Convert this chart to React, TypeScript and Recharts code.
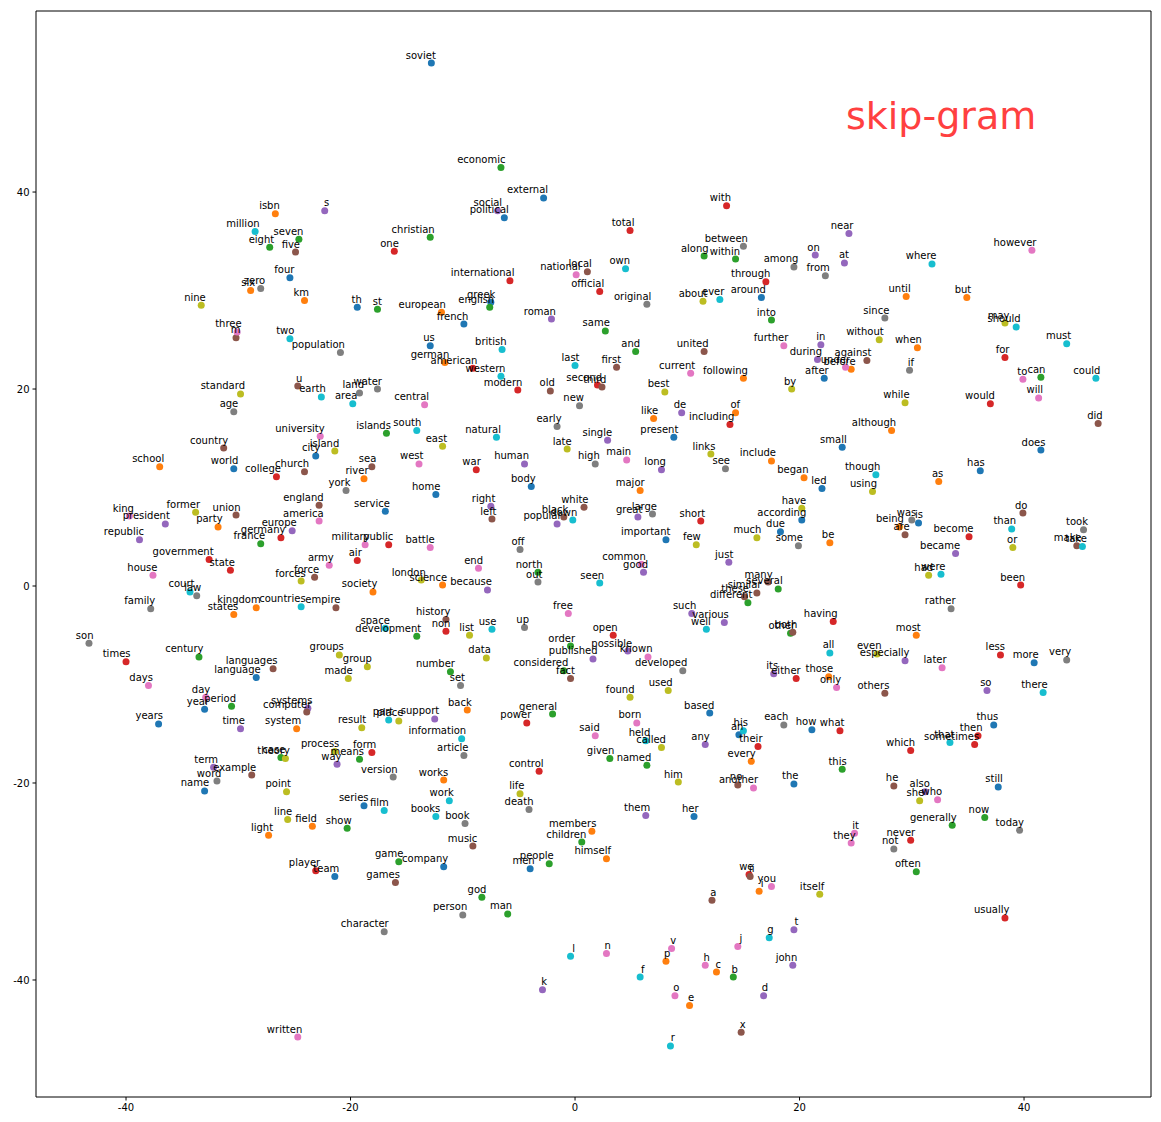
import { ScatterChart, Scatter, XAxis, YAxis, ReferenceArea } from "recharts";

// [word, x, y], grouped by marker colour
type Word = [string, number, number];

const blueWords: Word[] = [
  ["four", -25.4, 31.3], ["soviet", -12.8, 53.1], ["external", -2.8, 39.4], ["political", -6.3, 37.4],
  ["th", -19.4, 28.3], ["greek", -7.5, 28.8], ["french", -9.9, 26.6], ["us", -12.9, 24.4],
  ["around", 16.6, 29.3], ["after", 22.2, 21.1], ["does", 41.5, 13.8], ["has", 36.1, 11.7],
  ["city", -23.1, 13.2], ["world", -30.4, 11.9], ["language", -28.4, -9.3], ["year", -33.0, -12.5],
  ["home", -12.4, 9.3], ["body", -3.9, 10.1], ["service", -16.9, 7.6], ["present", 8.8, 15.1],
  ["small", 23.8, 14.1], ["led", 22.0, 9.9], ["according", 20.2, 6.7], ["due", 18.3, 5.5],
  ["important", 8.1, 4.7], ["is", 30.6, 6.4], ["more", 40.9, -7.8], ["years", -37.1, -14.0],
  ["name", -33.0, -20.8], ["series", -18.8, -22.3], ["team", -21.4, -29.5], ["company", -11.7, -28.5],
  ["men", -4.0, -28.7], ["based", 12.0, -12.9], ["an", 14.6, -15.1], ["how", 21.1, -14.6],
  ["the", 19.5, -20.1], ["her", 10.6, -23.4], ["thus", 37.3, -14.1], ["still", 37.7, -20.4],
];

const orangeWords: Word[] = [
  ["isbn", -26.7, 37.8], ["six", -28.9, 30.0], ["km", -24.1, 29.0], ["european", -11.9, 27.8],
  ["german", -11.6, 22.7], ["until", 29.5, 29.4], ["but", 34.9, 29.3], ["when", 30.5, 24.2],
  ["before", 24.6, 22.0], ["following", 15.0, 21.1], ["like", 7.0, 17.0], ["of", 14.3, 17.6],
  ["although", 28.2, 15.8], ["school", -37.0, 12.1], ["river", -18.8, 10.9], ["party", -31.8, 6.0],
  ["kingdom", -28.4, -2.2], ["states", -30.4, -2.9], ["science", -11.8, 0.1], ["society", -18.0, -0.6],
  ["include", 17.5, 12.7], ["began", 20.4, 11.0], ["major", 5.8, 9.7], ["be", 22.7, 4.4],
  ["as", 32.4, 10.6], ["being", 28.9, 6.0], ["most", 30.4, -5.0], ["those", 22.6, -9.2],
  ["system", -24.8, -14.5], ["field", -23.4, -24.4], ["light", -27.3, -25.3], ["back", -9.6, -12.6],
  ["works", -11.7, -19.7], ["members", 1.5, -24.9], ["himself", 2.8, -27.7], ["every", 15.7, -17.8],
  ["i", 16.4, -31.0], ["p", 8.1, -38.1], ["c", 12.6, -39.2], ["e", 10.2, -42.6],
];

const greenWords: Word[] = [
  ["seven", -24.6, 35.2], ["eight", -27.2, 34.4], ["economic", -6.6, 42.5], ["christian", -12.9, 35.4],
  ["st", -17.6, 28.1], ["english", -7.6, 28.3], ["same", 2.7, 25.9], ["along", 11.5, 33.5],
  ["within", 14.3, 33.2], ["into", 17.5, 27.0], ["and", 5.4, 23.8], ["can", 41.5, 21.2],
  ["islands", -16.8, 15.5], ["france", -28.0, 4.3], ["north", -3.3, 1.4], ["development", -14.1, -5.1],
  ["century", -33.5, -7.2], ["period", -30.6, -12.2], ["order", -0.4, -6.1], ["considered", -1.0, -8.6],
  ["number", -11.1, -8.7], ["several", 18.1, -0.3], ["different", 15.4, -1.7], ["other", 19.2, -4.8],
  ["case", -26.2, -17.4], ["means", -19.2, -17.6], ["show", -20.3, -24.6], ["general", -2.0, -13.0],
  ["given", 3.1, -17.5], ["named", 6.4, -18.2], ["this", 23.8, -18.6], ["children", 0.6, -26.0],
  ["game", -15.7, -28.0], ["people", -2.3, -28.2], ["god", -8.3, -31.6], ["man", -6.0, -33.3],
  ["b", 14.1, -39.7], ["now", 36.5, -23.5], ["generally", 33.6, -24.3], ["often", 30.4, -29.0],
];

const redWords: Word[] = [
  ["one", -16.1, 34.0], ["international", -5.8, 31.0], ["official", 2.2, 29.9], ["american", -9.1, 22.1],
  ["second", 2.0, 20.4], ["modern", -5.1, 19.9], ["with", 13.5, 38.6], ["total", 4.9, 36.1],
  ["through", 17.0, 30.9], ["including", 13.8, 16.4], ["for", 38.3, 23.2], ["would", 37.0, 18.5],
  ["college", -26.6, 11.1], ["germany", -26.2, 4.9], ["government", -32.6, 2.7], ["state", -30.7, 1.6],
  ["air", -19.4, 2.6], ["public", -16.6, 4.2], ["war", -8.8, 11.8], ["times", -40.0, -7.7],
  ["non", -11.5, -4.6], ["open", 3.4, -5.0], ["short", 11.2, 6.6], ["having", 23.0, -3.6],
  ["either", 19.7, -9.4], ["become", 35.1, 5.0], ["been", 39.7, 0.1], ["less", 37.9, -7.0],
  ["power", -4.3, -13.9], ["form", -18.1, -16.9], ["control", -3.2, -18.8], ["player", -23.1, -28.9],
  ["what", 23.6, -14.7], ["their", 16.3, -16.3], ["we", 15.5, -29.3], ["then", 35.9, -15.2],
  ["sometimes", 35.6, -16.1], ["which", 29.9, -16.7], ["never", 29.9, -25.8], ["usually", 38.3, -33.7],
];

const purpleWords: Word[] = [
  ["s", -22.3, 38.1], ["social", -6.9, 38.1], ["roman", -2.1, 27.1], ["near", 24.4, 35.8],
  ["on", 21.4, 33.6], ["at", 24.0, 32.8], ["in", 21.9, 24.5], ["during", 21.6, 23.0],
  ["de", 9.5, 17.6], ["single", 2.9, 14.8], ["human", -4.5, 12.4], ["long", 7.7, 11.8],
  ["president", -36.5, 6.3], ["republic", -38.8, 4.7], ["europe", -25.2, 5.6], ["right", -7.5, 8.1],
  ["popular", -1.6, 6.3], ["great", 5.6, 7.0], ["just", 13.7, 2.4], ["good", 6.1, 1.4],
  ["because", -7.8, -0.4], ["such", 10.4, -2.8], ["various", 13.3, -3.7], ["possible", 4.7, -6.6],
  ["published", 1.6, -7.4], ["its", 17.7, -8.9], ["became", 33.9, 3.3], ["especially", 29.4, -7.6],
  ["so", 36.7, -10.6], ["systems", -23.8, -12.4], ["time", -29.8, -14.5], ["way", -21.2, -18.1],
  ["term", -32.2, -18.4], ["support", -12.5, -13.5], ["any", 11.6, -16.1], ["them", 6.3, -23.3],
  ["k", -2.9, -41.0], ["t", 19.5, -34.9], ["john", 19.4, -38.5], ["d", 16.8, -41.6],
  ["also", 31.2, -20.9],
];

const brownWords: Word[] = [
  ["five", -24.9, 33.9], ["m", -30.2, 25.2], ["u", -24.7, 20.3], ["local", 1.1, 31.9],
  ["first", 3.7, 22.2], ["third", 2.4, 20.2], ["old", -2.2, 19.8], ["united", 11.5, 23.8],
  ["against", 26.0, 22.9], ["did", 46.6, 16.5], ["country", -31.3, 14.0], ["church", -24.1, 11.6],
  ["england", -22.8, 8.2], ["union", -30.2, 7.2], ["force", -23.2, 0.9], ["empire", -21.3, -2.2],
  ["languages", -26.9, -8.4], ["computer", -23.9, -12.8], ["sea", -18.1, 12.1], ["left", -7.4, 6.8],
  ["white", 0.8, 8.0], ["black", -1.0, 7.0], ["history", -11.5, -3.4], ["fact", -0.4, -9.4],
  ["many", 17.2, 0.4], ["similar", 16.2, -0.7], ["these", 15.1, -1.1], ["both", 19.4, -4.7],
  ["others", 27.6, -10.9], ["do", 39.9, 7.4], ["are", 29.4, 5.2], ["make", 44.7, 4.1],
  ["example", -28.8, -19.2], ["music", -9.1, -26.4], ["games", -16.0, -30.1], ["no", 14.5, -20.2],
  ["ii", 15.6, -29.5], ["a", 12.2, -31.9], ["x", 14.8, -45.3], ["he", 28.4, -20.3],
];

const pinkWords: Word[] = [
  ["three", -30.1, 25.8], ["national", 0.1, 31.6], ["further", 18.6, 24.4], ["under", 24.1, 22.2],
  ["current", 10.3, 21.6], ["however", 40.7, 34.1], ["to", 39.9, 21.0], ["will", 41.3, 19.1],
  ["university", -22.7, 15.2], ["king", -39.7, 7.1], ["america", -22.8, 6.6], ["military", -18.7, 4.2],
  ["army", -21.9, 2.1], ["house", -37.6, 1.1], ["days", -38.0, -10.1], ["day", -32.9, -11.3],
  ["central", -13.4, 18.4], ["west", -13.9, 12.4], ["battle", -12.9, 3.9], ["end", -8.6, 1.8],
  ["free", -0.6, -2.8], ["main", 4.6, 12.8], ["common", 5.9, 2.2], ["known", 6.5, -7.2],
  ["only", 23.3, -10.3], ["later", 32.7, -8.3], ["said", 1.8, -15.2], ["born", 5.5, -13.9],
  ["another", 15.9, -20.5], ["it", 24.9, -25.1], ["they", 24.6, -26.1], ["you", 17.5, -30.5],
  ["who", 32.3, -21.7], ["written", -24.7, -45.8], ["n", 2.8, -37.3], ["j", 14.5, -36.6],
  ["v", 8.6, -36.8], ["h", 11.6, -38.5], ["o", 8.9, -41.6],
];

const grayWords: Word[] = [
  ["zero", -28.0, 30.2], ["population", -20.9, 23.7], ["age", -30.4, 17.7], ["land", -19.2, 19.6],
  ["water", -17.6, 20.0], ["between", 15.0, 34.5], ["among", 19.5, 32.4], ["from", 22.3, 31.5],
  ["original", 6.4, 28.6], ["since", 27.6, 27.2], ["if", 29.8, 21.9], ["new", 0.4, 18.3],
  ["early", -1.6, 16.2], ["high", 1.8, 12.4], ["york", -20.4, 9.7], ["law", -33.7, -1.0],
  ["family", -37.8, -2.3], ["son", -43.3, -5.8], ["off", -4.9, 3.7], ["out", -3.3, 0.4],
  ["up", -4.5, -4.2], ["set", -10.2, -10.1], ["large", 6.9, 7.3], ["see", 13.4, 11.9],
  ["some", 19.9, 4.1], ["developed", 9.6, -8.6], ["was", 30.0, 6.7], ["took", 45.3, 5.7],
  ["rather", 33.5, -2.3], ["very", 43.8, -7.5], ["word", -31.9, -19.8], ["version", -16.2, -19.4],
  ["article", -9.9, -17.2], ["book", -9.8, -24.1], ["death", -4.1, -22.7], ["person", -10.0, -33.4],
  ["character", -17.0, -35.1], ["each", 18.6, -14.1], ["today", 39.6, -24.8], ["not", 28.4, -26.7],
];

const oliveWords: Word[] = [
  ["nine", -33.3, 28.5], ["standard", -29.8, 19.5], ["about", 11.4, 28.9], ["best", 8.0, 19.7],
  ["by", 19.3, 20.0], ["without", 27.1, 25.0], ["may", 38.3, 26.7], ["while", 29.4, 18.6],
  ["island", -21.4, 13.7], ["former", -33.8, 7.5], ["forces", -24.4, 0.5], ["groups", -21.0, -7.0],
  ["group", -18.5, -8.2], ["made", -20.2, -9.4], ["east", -11.8, 14.2], ["late", -0.7, 13.9],
  ["london", -13.7, 0.6], ["list", -9.4, -5.0], ["data", -7.9, -7.3], ["found", 4.9, -11.3],
  ["used", 8.3, -10.6], ["links", 12.1, 13.4], ["using", 26.5, 9.6], ["have", 20.2, 7.9],
  ["much", 16.2, 4.9], ["few", 10.8, 4.2], ["or", 39.0, 3.9], ["had", 31.5, 1.1],
  ["even", 26.9, -6.9], ["result", -19.0, -14.4], ["place", -15.7, -13.7], ["process", -21.4, -16.8],
  ["theory", -25.8, -17.5], ["point", -25.7, -20.9], ["line", -25.6, -23.7], ["life", -4.9, -21.1],
  ["called", 7.7, -16.4], ["him", 9.2, -19.9], ["itself", 21.8, -31.3], ["she", 30.7, -21.8],
];

const cyanWords: Word[] = [
  ["million", -28.5, 36.0], ["two", -25.4, 25.1], ["earth", -22.6, 19.2], ["area", -19.8, 18.5],
  ["british", -6.5, 24.0], ["western", -6.6, 21.3], ["last", 0.0, 22.4], ["own", 4.5, 32.2],
  ["ever", 12.9, 29.1], ["where", 31.8, 32.7], ["should", 39.3, 26.3], ["must", 43.8, 24.6],
  ["could", 46.4, 21.1], ["south", -14.1, 15.8], ["natural", -7.0, 15.1], ["down", -0.2, 6.7],
  ["court", -34.3, -0.6], ["countries", -24.4, -2.1], ["seen", 2.2, 0.3], ["space", -16.9, -4.3],
  ["use", -7.4, -4.4], ["well", 11.7, -4.4], ["though", 26.8, 11.3], ["all", 22.7, -6.8],
  ["than", 38.9, 5.8], ["take", 45.2, 4.0], ["were", 32.6, 1.2], ["there", 41.7, -10.8],
  ["part", -16.6, -13.6], ["information", -10.1, -15.5], ["film", -17.0, -22.8], ["work", -11.2, -21.8],
  ["books", -12.4, -23.4], ["held", 6.3, -15.7], ["his", 15.0, -14.7], ["that", 33.4, -15.9],
  ["l", -0.4, -37.6], ["g", 17.3, -35.7], ["f", 5.8, -39.7], ["r", 8.5, -46.7],
];

const X_TICKS = [-40, -20, 0, 20, 40];
const Y_TICKS = [-40, -20, 0, 20, 40];
const X_DOMAIN: [number, number] = [-48.02, 51.31];
const Y_DOMAIN: [number, number] = [-51.88, 58.38];

// matplotlib tab10
const SERIES = [
  { name: "c0", color: "#1f77b4", words: blueWords },
  { name: "c1", color: "#ff7f0e", words: orangeWords },
  { name: "c2", color: "#2ca02c", words: greenWords },
  { name: "c3", color: "#d62728", words: redWords },
  { name: "c4", color: "#9467bd", words: purpleWords },
  { name: "c5", color: "#8c564b", words: brownWords },
  { name: "c6", color: "#e377c2", words: pinkWords },
  { name: "c7", color: "#7f7f7f", words: grayWords },
  { name: "c8", color: "#bcbd22", words: oliveWords },
  { name: "c9", color: "#17becf", words: cyanWords },
];

const FONT = '"DejaVu Sans", Verdana, sans-serif';

const toRows = (words: Word[]) => words.map(([word, x, y]) => ({ word, x, y }));
const allRows = SERIES.flatMap((s) => toRows(s.words));

function makeDot(color: string) {
  return (props: any) => <circle cx={props.cx} cy={props.cy} r={3.5} fill={color} />;
}

function WordLabel(props: any) {
  const { cx, cy } = props;
  const word = props.payload?.word ?? props.word;
  return (
    <text x={cx + 4.5} y={cy - 4.5} textAnchor="end" fontSize={10} fontFamily={FONT} fill="#000">
      {word}
    </text>
  );
}

export default function App() {
  return (
    <div style={{ position: "absolute", left: 0, top: 0, width: 1161, height: 1122 }}>
      <ScatterChart width={1161} height={1122} margin={{ top: 11, right: 10, bottom: 0, left: 0 }}>
        <XAxis
          type="number"
          dataKey="x"
          domain={X_DOMAIN}
          ticks={X_TICKS}
          allowDataOverflow
          height={25}
          axisLine={false}
          tickSize={3.5}
          tickMargin={3}
          tickLine={{ stroke: "#000" }}
          tick={{ fontSize: 10, fill: "#000", fontFamily: FONT }}
        />
        <YAxis
          type="number"
          dataKey="y"
          domain={Y_DOMAIN}
          ticks={Y_TICKS}
          allowDataOverflow
          width={36}
          axisLine={false}
          tickSize={3.5}
          tickMargin={3}
          tickLine={{ stroke: "#000" }}
          tick={{ fontSize: 10, fill: "#000", fontFamily: FONT }}
        />
        <ReferenceArea
          x1={X_DOMAIN[0]}
          x2={X_DOMAIN[1]}
          y1={Y_DOMAIN[0]}
          y2={Y_DOMAIN[1]}
          fill="none"
          stroke="#000"
          strokeWidth={1}
          ifOverflow="visible"
        />
        {SERIES.map((s) => (
          <Scatter
            key={s.name}
            name={s.name}
            data={toRows(s.words)}
            fill={s.color}
            shape={makeDot(s.color)}
            isAnimationActive={false}
          />
        ))}
        <Scatter name="labels" data={allRows} shape={WordLabel} isAnimationActive={false} />
      </ScatterChart>
      <div
        style={{
          position: "absolute",
          left: 846,
          top: 93,
          fontFamily: FONT,
          fontSize: 38,
          lineHeight: "46px",
          color: "#ff4040",
          whiteSpace: "nowrap",
        }}
      >
        skip-gram
      </div>
    </div>
  );
}
